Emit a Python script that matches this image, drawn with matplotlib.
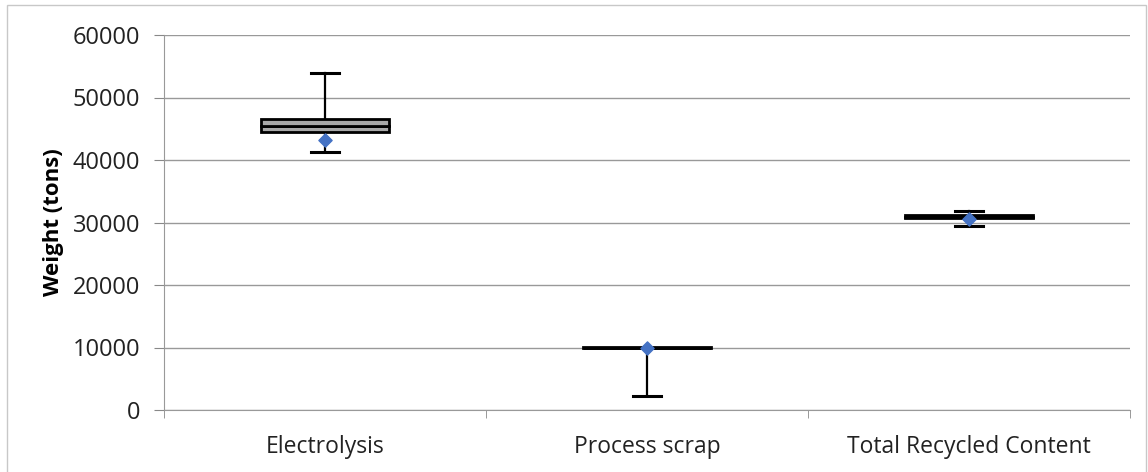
import matplotlib.pyplot as plt
from matplotlib.patches import Rectangle

# Box-plot summary values (tons)
categories = ['Electrolysis', 'Process scrap', 'Total Recycled Content']
q1 = [44500, 9850, 30800]
median = [45500, 10000, 30950]
q3 = [46500, 10150, 31150]
whisker_low = [41300, 2300, 29400]
whisker_high = [54000, 10150, 31900]
mean = [43200, 10000, 30600]
yticks = [0, 10000, 20000, 30000, 40000, 50000, 60000]

plt.rcParams['font.family'] = ['Open Sans', 'DejaVu Sans']

fig = plt.figure(figsize=(11.48, 4.72), dpi=100)
ax = fig.add_axes([164 / 1148, 62 / 472, 966 / 1148, 375 / 472])

# outer chart frame
fig.patches.append(Rectangle((7 / 1148, -0.01), 1139 / 1148, 1.0, transform=fig.transFigure,
                             fill=False, edgecolor='#c8c8c8', linewidth=1))

x = list(range(len(categories)))
width = 0.4
lower = [m - a for m, a in zip(median, q1)]
upper = [b - m for m, b in zip(median, q3)]
ax.bar(x, lower, bottom=q1, width=width, color='#a8a8a8', edgecolor='black', linewidth=2, zorder=3)
ax.bar(x, upper, bottom=median, width=width, color='#a8a8a8', edgecolor='black', linewidth=2, zorder=3)

# whiskers
for i in x:
    if whisker_high[i] > q3[i]:
        ax.plot([i, i], [q3[i], whisker_high[i]], color='black', lw=1.6, zorder=2)
        ax.plot([i - 0.045, i + 0.045], [whisker_high[i]] * 2, color='black', lw=2.2, zorder=2)
    if whisker_low[i] < q1[i]:
        ax.plot([i, i], [q1[i], whisker_low[i]], color='black', lw=1.6, zorder=2)
        ax.plot([i - 0.045, i + 0.045], [whisker_low[i]] * 2, color='black', lw=2.2, zorder=2)

ax.scatter(x, mean, marker='D', s=45, color='#4472C4', zorder=4)

ax.set_xlim(-0.5, 2.5)
ax.set_ylim(0, 60000)
ax.set_yticks(yticks)
ax.set_yticklabels([str(v) for v in yticks], fontsize=17, color='#222222')
ax.set_xticks(x)
ax.set_xticklabels(categories, fontsize=16.5, color='#222222')
ax.set_xticks([-0.5, 0.5, 1.5, 2.5], minor=True)
ax.tick_params(axis='x', which='major', length=0, pad=18)
ax.tick_params(axis='x', which='minor', length=6, color='#888888')
ax.tick_params(axis='y', length=7, color='#888888', pad=10)
ax.set_ylabel('Weight (tons)', fontsize=16, fontweight='bold', labelpad=6)

ax.grid(axis='y', color='#999999', linewidth=1)
ax.set_axisbelow(True)
for side in ['top', 'right']:
    ax.spines[side].set_visible(False)
ax.spines['left'].set_color('#999999')
ax.spines['bottom'].set_color('#999999')

plt.savefig('out.png', dpi=100)
